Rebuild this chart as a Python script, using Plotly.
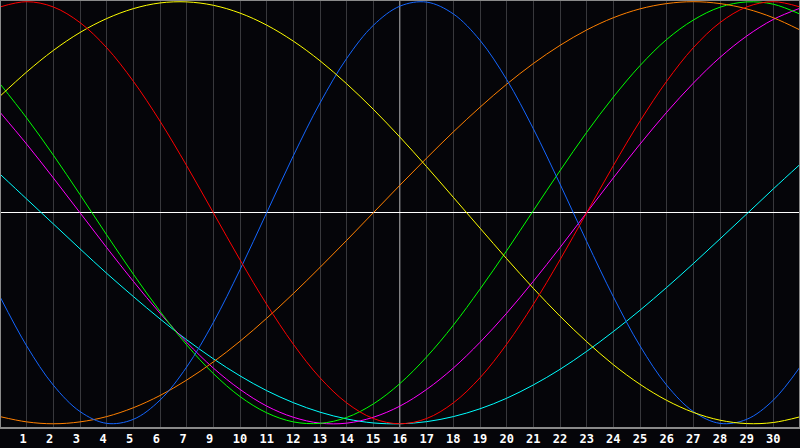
import plotly.graph_objects as go

# day index (0..30) along the chart
days = list(range(31))

# tick labels under grid lines 1..29 (the source skips "8")
tick_labels = ["1", "2", "3", "4", "5", "6", "7", "9", "10", "11", "12", "13", "14", "15",
               "16", "17", "18", "19", "20", "21", "22", "23", "24", "25", "26", "27",
               "28", "29", "30"]
tick_positions = list(range(1, 30))
today_index = 15

# curve values in percent (-100..100)
red = [97.5, 100, 97.5, 90.1, 78.2, 62.3, 43.4, 22.3, 0, -22.3, -43.4, -62.3, -78.2,
       -90.1, -97.5, -100, -97.5, -90.1, -78.2, -62.3, -43.4, -22.3, 0, 22.3, 43.4,
       62.3, 78.2, 90.1, 97.5, 100, 97.5]
yellow = [55.2, 66.7, 76.9, 85.4, 92.0, 96.7, 99.4, 99.9, 98.3, 94.6, 88.9, 81.3, 72.0,
          61.1, 49.0, 35.8, 21.8, 7.3, -7.3, -21.8, -35.8, -49.0, -61.1, -72.0, -81.3,
          -88.9, -94.6, -98.3, -99.9, -99.4, -96.7]
blue = [-39.8, -63.1, -81.7, -94.2, -99.8, -97.9, -88.8, -73.1, -52.0, -27.0, 0, 27.0,
        52.0, 73.1, 88.8, 97.9, 99.8, 94.2, 81.7, 63.1, 39.8, 13.6, -13.6, -39.8, -63.1,
        -81.7, -94.2, -99.8, -97.9, -88.8, -73.1]
orange = [-96.6, -99.1, -100, -99.1, -96.6, -92.4, -86.6, -79.3, -70.7, -60.9, -50.0,
          -38.3, -25.9, -13.1, 0, 13.1, 25.9, 38.3, 50.0, 60.9, 70.7, 79.3, 86.6, 92.4,
          96.6, 99.1, 100, 99.1, 96.6, 92.4, 86.6]
green = [61.1, 44.9, 27.3, 8.6, -10.5, -29.1, -46.7, -62.6, -76.2, -87.1, -94.8, -99.1,
         -99.8, -97.0, -90.6, -80.9, -68.3, -53.3, -36.2, -18.0, 1.0, 19.9, 38.1, 54.8,
         69.7, 82.1, 91.3, 97.4, 99.9, 98.8, 94.1]
magenta = [47.6, 32.5, 16.5, 0, -16.5, -32.5, -47.6, -61.4, -73.6, -83.7, -91.6, -96.9,
           -99.7, -99.7, -96.9, -91.6, -83.7, -73.6, -61.4, -47.6, -32.5, -16.5, 0, 16.5,
           32.5, 47.6, 61.4, 73.6, 83.7, 91.6, 96.9]
cyan = [18.3, 6.5, -5.3, -17.1, -28.7, -39.7, -50.3, -60.2, -69.2, -77.3, -84.3, -90.0,
        -94.5, -97.7, -99.6, -100, -99.0, -96.6, -92.9, -87.9, -81.6, -74.2, -65.7, -56.3,
        -46.2, -35.4, -24.1, -12.4, -0.6, 11.3, 22.9]

series = [
    ("cyan", cyan, "#00ffff"),
    ("magenta", magenta, "#ff00ff"),
    ("green", green, "#00ff00"),
    ("orange", orange, "#ff8000"),
    ("blue", blue, "#1466ff"),
    ("yellow", yellow, "#ffff00"),
    ("red", red, "#ff0000"),
]

fig = go.Figure()
for name, vals, col in series:
    fig.add_trace(go.Scatter(
        x=days, y=vals, mode="lines", name=name,
        line=dict(color=col, width=1, shape="spline", smoothing=1.0),
        hoverinfo="skip",
    ))

# pad single-digit labels so that they sit left like the source's left-aligned text
ticktext = [t + "\u00a0" if len(t) == 1 else t for t in tick_labels]

bg = "#050509"
fig.update_layout(
    width=800, height=448,
    margin=dict(l=0, r=0, t=0, b=20, autoexpand=False),
    paper_bgcolor=bg, plot_bgcolor=bg,
    showlegend=False,
    xaxis=dict(
        range=[0, 30], tickmode="array", tickvals=tick_positions, ticktext=ticktext,
        showgrid=True, gridcolor="#38383c", gridwidth=1, zeroline=False,
        showline=False, ticks="", fixedrange=True, ticklabelstandoff=2,
        tickfont=dict(family="DejaVu Sans Mono", size=12, color="#ffffff", weight="bold"),
    ),
    yaxis=dict(
        range=[-102, 100.8], showgrid=False, showticklabels=False,
        zeroline=True, zerolinecolor="#ffffff", zerolinewidth=1, fixedrange=True,
    ),
    shapes=[
        dict(type="line", xref="x", yref="paper", x0=today_index, x1=today_index, y0=0, y1=1,
             line=dict(color="#ffffff", width=1), layer="below"),
        dict(type="rect", xref="paper", yref="paper", x0=0, x1=1, y0=0, y1=1,
             line=dict(color="#8a8a8a", width=2), layer="above"),
    ],
)

fig.write_html(
    "out.html",
    config={"displayModeBar": False},
    post_script="document.body.style.margin='0';document.body.style.padding='0';"
                "document.body.style.overflow='hidden';document.body.style.background='#050509';",
)
